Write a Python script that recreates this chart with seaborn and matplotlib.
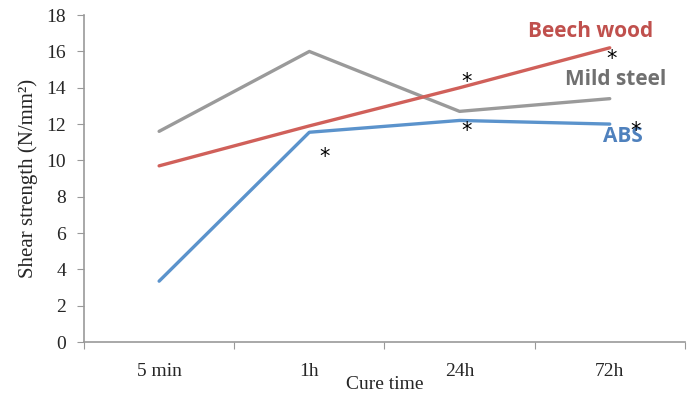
import matplotlib
matplotlib.use("Agg")
import matplotlib.pyplot as plt
import seaborn as sns
import pandas as pd
from matplotlib.ticker import FixedLocator, NullFormatter

categories = ["5 min", "1h", "24h", "72h"]
beech = [9.7, 11.9, 14.0, 16.2]
steel = [11.6, 16.0, 12.7, 13.4]
abs_vals = [3.35, 11.55, 12.2, 12.0]
series_names = ["Mild steel", "Beech wood", "ABS"]
colors = {"Mild steel": "#9a9a9a", "Beech wood": "#d0605a", "ABS": "#5b93cc"}
label_colors = {"Mild steel": "#707070", "Beech wood": "#c0504d", "ABS": "#4f81bd"}

rows = []
for name, vals in zip(series_names, [steel, beech, abs_vals]):
    for i, v in enumerate(vals):
        rows.append({"x": i, "cat": categories[i], "value": v, "series": name})
df = pd.DataFrame(rows)

sns.set_style("white")
plt.rcParams["font.family"] = ["Liberation Serif", "DejaVu Serif"]

fig = plt.figure(figsize=(6.96, 3.98), dpi=100)
ax = fig.add_axes([0.1207, 0.1407, 0.984 - 0.1207, 0.962 - 0.1407])

sns.lineplot(data=df, x="x", y="value", hue="series", palette=colors,
             hue_order=series_names, linewidth=2.4, ax=ax, legend=False, sort=False)

ax.set_xlim(-0.5, 3.5)
ax.set_ylim(0, 18)
ax.set_yticks(range(0, 19, 2))
ax.tick_params(axis="y", labelsize=14, length=5, color="#999999", direction="out", left=True, pad=8)

ax.xaxis.set_major_locator(FixedLocator([-0.5, 0.5, 1.5, 2.5, 3.5]))
ax.xaxis.set_major_formatter(NullFormatter())
ax.xaxis.set_minor_locator(FixedLocator(range(len(categories))))
ax.set_xticklabels(categories, minor=True)
ax.tick_params(axis="x", which="major", length=5, color="#999999", direction="out", bottom=True)
ax.tick_params(axis="x", which="minor", length=0, labelsize=14, pad=15)

for s in ["top", "right"]:
    ax.spines[s].set_visible(False)
for s in ["left", "bottom"]:
    ax.spines[s].set_color("#999999")
    ax.spines[s].set_linewidth(1.2)

ax.set_xlabel("Cure time", fontsize=14, labelpad=-3)
ax.set_ylabel("Shear strength (N/mm²)", fontsize=15, labelpad=6)

label_pos = {"Beech wood": (2.87, 17.1), "Mild steel": (3.04, 14.47), "ABS": (3.09, 11.34)}
for name, (lx, ly) in label_pos.items():
    ax.text(lx, ly, name, color=label_colors[name], fontsize=15, fontweight="bold",
            family=["Open Sans", "DejaVu Sans"], ha="center", va="center")

stars = [(1.10, 10.2), (2.05, 14.3), (2.05, 11.6), (3.01, 15.6), (3.17, 11.6)]
for sx, sy in stars:
    ax.text(sx, sy, "*", fontsize=15, ha="center", va="center", color="black",
            family=["DejaVu Sans"], zorder=5)

fig.savefig("out.png", dpi=100)
